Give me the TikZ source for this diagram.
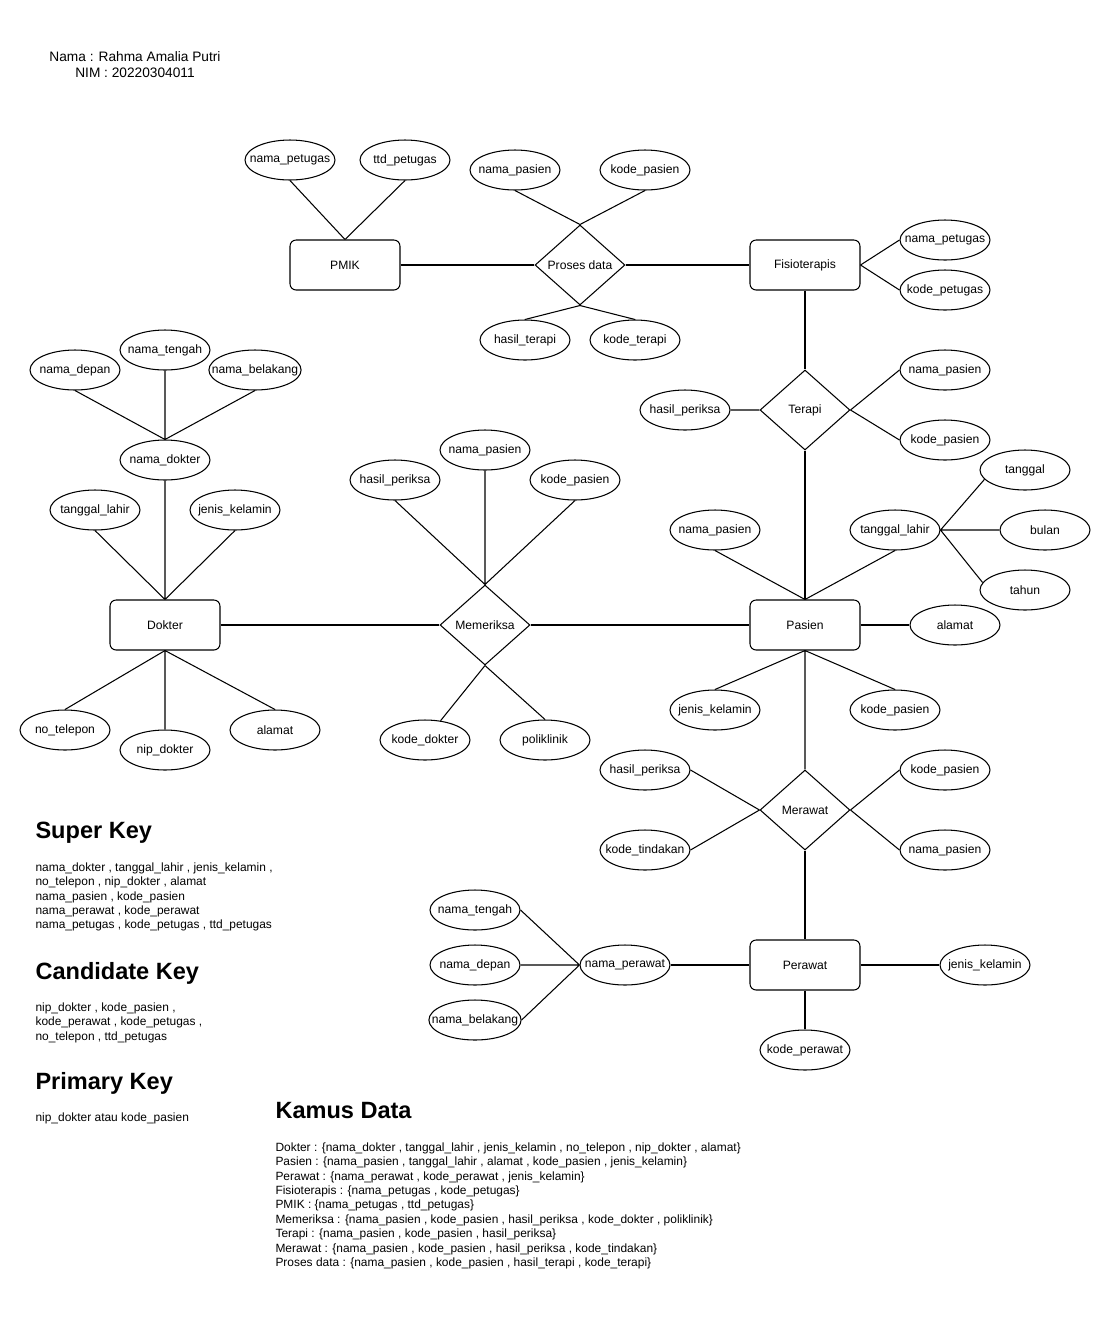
\documentclass[tikz,border=0pt]{standalone}
\usepackage{fontspec}
\setmainfont{Liberation Sans}
\usepackage{tikz}
\usetikzlibrary{shapes.geometric}
\tikzset{
	entitas/.style={draw, rounded corners=3.5pt, minimum width=2.2cm, minimum height=1cm, font=\fontsize{6.9}{8}\selectfont},
	relasi/.style={draw, diamond, inner sep=0pt, minimum width=1.8cm, minimum height=1.6cm, font=\fontsize{6.9}{8}\selectfont},
	atribut/.style={draw, ellipse, inner xsep=-6pt, inner ysep=0pt, minimum width=1.8cm, minimum height=0.8cm, font=\fontsize{6.9}{8}\selectfont},
	judul/.style={anchor=west, inner sep=0pt, font=\fontsize{13.4}{16}\selectfont\bfseries},
	isi/.style={anchor=north west, inner sep=0pt, align=left, font=\fontsize{6.8}{8.22}\selectfont}
}

\begin{document}
\begin{tikzpicture}[x=0.02cm, y=-0.02cm, line width=0.6pt]
	\useasboundingbox (0,0) rectangle (1101,1320);

	\node[align=center, font=\fontsize{7.8}{9.1}\selectfont] (identitas) at (135,65) {Nama : Rahma Amalia Putri\\NIM : 20220304011};

	% entitas
	\node[entitas] (pmik) at (345,265) {PMIK};
	\node[entitas] (fisio) at (805,265) {Fisioterapis};
	\node[entitas] (dokter) at (165,625) {Dokter};
	\node[entitas] (pasien) at (805,625) {Pasien};
	\node[entitas] (perawat) at (805,965) {Perawat};

	% relasi
	\node[relasi] (proses) at (580,265) {Proses data};
	\node[relasi] (terapi) at (805,410) {Terapi};
	\node[relasi] (periksa) at (485,625) {Memeriksa};
	\node[relasi] (rawat) at (805,810) {Merawat};

	% atribut
	\node[atribut] (pm1) at (290,160) {nama\_petugas};
	\node[atribut] (pm2) at (405,160) {ttd\_petugas};
	\node[atribut] (pd1) at (515,170) {nama\_pasien};
	\node[atribut] (pd2) at (645,170) {kode\_pasien};
	\node[atribut] (pd3) at (525,340) {hasil\_terapi};
	\node[atribut] (pd4) at (635,340) {kode\_terapi};
	\node[atribut] (fs1) at (945,240) {nama\_petugas};
	\node[atribut] (fs2) at (945,290) {kode\_petugas};
	\node[atribut] (tr1) at (685,410) {hasil\_periksa};
	\node[atribut] (tr2) at (945,370) {nama\_pasien};
	\node[atribut] (tr3) at (945,440) {kode\_pasien};

	\node[atribut] (dk1) at (165,460) {nama\_dokter};
	\node[atribut] (dk2) at (75,370) {nama\_depan};
	\node[atribut] (dk3) at (165,350) {nama\_tengah};
	\node[atribut] (dk4) at (255,370) {nama\_belakang};
	\node[atribut] (dk5) at (95,510) {tanggal\_lahir};
	\node[atribut] (dk6) at (235,510) {jenis\_kelamin};
	\node[atribut] (dk7) at (65,730) {no\_telepon};
	\node[atribut] (dk8) at (165,750) {nip\_dokter};
	\node[atribut] (dk9) at (275,730) {alamat};

	\node[atribut] (mr1) at (395,480) {hasil\_periksa};
	\node[atribut] (mr2) at (485,450) {nama\_pasien};
	\node[atribut] (mr3) at (575,480) {kode\_pasien};
	\node[atribut] (mr4) at (425,740) {kode\_dokter};
	\node[atribut] (mr5) at (545,740) {poliklinik};

	\node[atribut] (ps1) at (715,530) {nama\_pasien};
	\node[atribut] (ps2) at (895,530) {tanggal\_lahir};
	\node[atribut] (ps3) at (1025,470) {tanggal};
	\node[atribut] (ps4) at (1045,530) {bulan};
	\node[atribut] (ps5) at (1025,590) {tahun};
	\node[atribut] (ps6) at (955,625) {alamat};
	\node[atribut] (ps7) at (715,710) {jenis\_kelamin};
	\node[atribut] (ps8) at (895,710) {kode\_pasien};

	\node[atribut] (rw1) at (645,770) {hasil\_periksa};
	\node[atribut] (rw2) at (645,850) {kode\_tindakan};
	\node[atribut] (rw3) at (945,770) {kode\_pasien};
	\node[atribut] (rw4) at (945,850) {nama\_pasien};

	\node[atribut] (pr1) at (625,965) {nama\_perawat};
	\node[atribut] (pr2) at (475,910) {nama\_tengah};
	\node[atribut] (pr3) at (475,965) {nama\_depan};
	\node[atribut] (pr4) at (475,1020) {nama\_belakang};
	\node[atribut] (pr5) at (985,965) {jenis\_kelamin};
	\node[atribut] (pr6) at (805,1050) {kode\_perawat};

	% garis
	\draw (pm1.south) -- (pmik.north) (pm2.south) -- (pmik.north);
	\draw (pmik.east) -- (proses.west) (proses.east) -- (fisio.west);
	\draw (pd1.south) -- (proses.north) (pd2.south) -- (proses.north);
	\draw (pd3.north) -- (proses.south) (pd4.north) -- (proses.south);
	\draw (fisio.east) -- (fs1.west) (fisio.east) -- (fs2.west);
	\draw (fisio.south) -- (terapi.north) (terapi.south) -- (pasien.north);
	\draw (tr1.east) -- (terapi.west) (terapi.east) -- (tr2.west) (terapi.east) -- (tr3.west);

	\draw (dk2.south) -- (dk1.north) (dk3.south) -- (dk1.north) (dk4.south) -- (dk1.north);
	\draw (dk1.south) -- (dokter.north) (dk5.south) -- (dokter.north) (dk6.south) -- (dokter.north);
	\draw (dokter.south) -- (dk7.north) (dokter.south) -- (dk8.north) (dokter.south) -- (dk9.north);

	\draw (dokter.east) -- (periksa.west) (periksa.east) -- (pasien.west);
	\draw (mr1.south) -- (periksa.north) (mr2.south) -- (periksa.north) (mr3.south) -- (periksa.north);
	\draw (periksa.south) -- (mr4) (periksa.south) -- (mr5.north);

	\draw (ps1.south) -- (pasien.north) (ps2.south) -- (pasien.north);
	\draw (ps2.east) -- (ps3.193) (ps2.east) -- (ps4.west) (ps2.east) -- (ps5.170);
	\draw (pasien.east) -- (ps6.west);
	\draw (pasien.south) -- (ps7.north) (pasien.south) -- (ps8.north) (pasien.south) -- (rawat.north);

	\draw (rw1.east) -- (rawat.west) (rw2.east) -- (rawat.west);
	\draw (rawat.east) -- (rw3.west) (rawat.east) -- (rw4.west);
	\draw (rawat.south) -- (perawat.north);

	\draw (perawat.west) -- (pr1.east);
	\draw (pr1.west) -- (pr2.east) (pr1.west) -- (pr3.east) (pr1.west) -- (pr4.east);
	\draw (perawat.east) -- (pr5.west) (perawat.south) -- (pr6.north);

	% keterangan
	\node[judul] (superkey) at (35,833) {Super Key};
	\node[isi] (superisi) at (35,862) {nama\_dokter , tanggal\_lahir , jenis\_kelamin ,\\no\_telepon , nip\_dokter , alamat\\nama\_pasien , kode\_pasien\\nama\_perawat , kode\_perawat\\nama\_petugas , kode\_petugas , ttd\_petugas};
	\node[judul] (candkey) at (35,973) {Candidate Key};
	\node[isi] (candisi) at (35,1002) {nip\_dokter , kode\_pasien ,\\kode\_perawat , kode\_petugas ,\\no\_telepon , ttd\_petugas};
	\node[judul] (primkey) at (35,1083) {Primary Key};
	\node[isi] (primisi) at (35,1112) {nip\_dokter atau kode\_pasien};
	\node[judul] (kamus) at (275,1110) {Kamus Data};
	\node[isi] (kamusisi) at (275,1142) {Dokter : \{nama\_dokter , tanggal\_lahir , jenis\_kelamin , no\_telepon , nip\_dokter , alamat\}\\
		Pasien : \{nama\_pasien , tanggal\_lahir , alamat , kode\_pasien , jenis\_kelamin\}\\
		Perawat : \{nama\_perawat , kode\_perawat , jenis\_kelamin\}\\
		Fisioterapis : \{nama\_petugas , kode\_petugas\}\\
		PMIK : \{nama\_petugas , ttd\_petugas\}\\
		Memeriksa : \{nama\_pasien , kode\_pasien , hasil\_periksa , kode\_dokter , poliklinik\}\\
		Terapi : \{nama\_pasien , kode\_pasien , hasil\_periksa\}\\
		Merawat : \{nama\_pasien , kode\_pasien , hasil\_periksa , kode\_tindakan\}\\
		Proses data : \{nama\_pasien , kode\_pasien , hasil\_terapi , kode\_terapi\}};
\end{tikzpicture}
\end{document}
